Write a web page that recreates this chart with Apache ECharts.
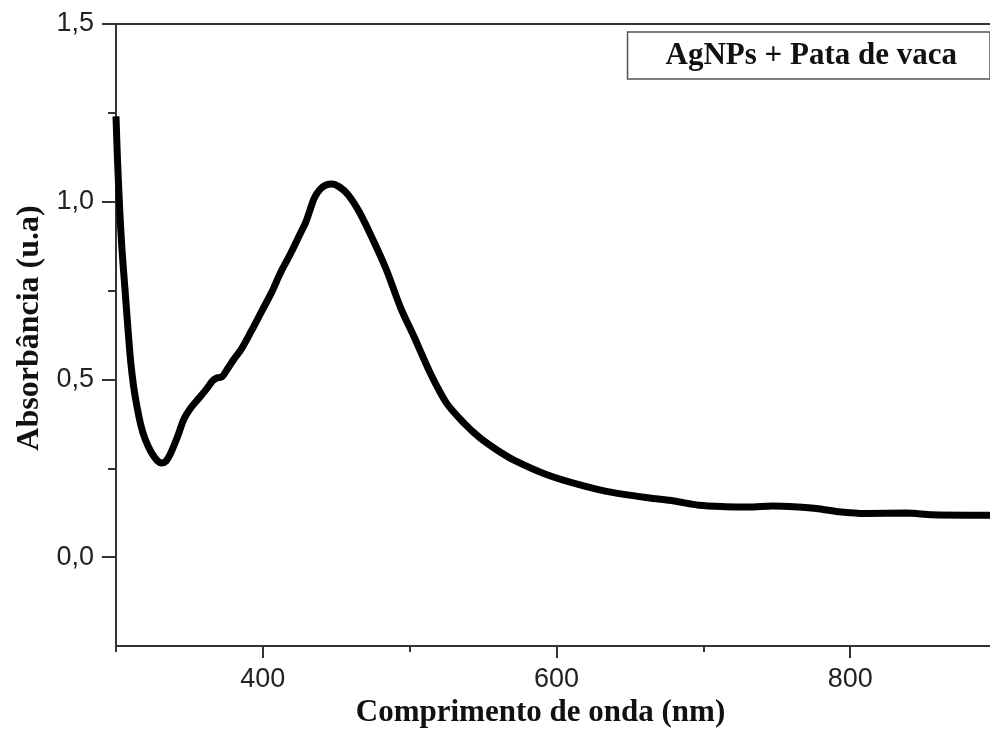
<!DOCTYPE html>
<html>
<head>
<meta charset="utf-8">
<script src="https://cdn.jsdelivr.net/npm/echarts@6/dist/echarts.min.js"></script>
<style>html,body{margin:0;padding:0;background:#fff}#c{width:990px;height:731px}</style>
</head>
<body>
<div id="c"></div>
<script>
const seriesName = 'AgNPs + Pata de vaca';
const wavelength = [300,301,302.5,304,306,308,310,312,314,317,320,324,328,331,334,337,342,346,351,356,362,366,369,372,376,380,385,392,399,406,412,419,426,429,432,435,439,443,447,452,458,466,475,484,494,503,514,525,537,548,560,571,594,616,634,662,680,697,715,731,747,765,777,792,811,838,856,880,900];
const absorbance = [1.24,1.12,0.98,0.87,0.76,0.65,0.55,0.48,0.43,0.37,0.33,0.295,0.272,0.265,0.27,0.29,0.34,0.386,0.42,0.445,0.475,0.497,0.505,0.507,0.53,0.555,0.583,0.635,0.69,0.745,0.80,0.855,0.915,0.94,0.975,1.01,1.035,1.047,1.05,1.042,1.02,0.969,0.893,0.81,0.70,0.62,0.518,0.434,0.377,0.335,0.30,0.273,0.231,0.203,0.185,0.167,0.158,0.146,0.142,0.141,0.144,0.141,0.137,0.128,0.123,0.124,0.119,0.118,0.118];
const xMajorTicks = [400,600,800];
const xMinorTicks = [300,500,700,900];
const yMajorTicks = [0,0.5,1,1.5];
const yMinorTicks = [0.25,0.75,1.25];

const data = wavelength.map((w,i)=>[w,absorbance[i]]);
const axisColor = '#333';
const labelStyle = {color:'#222', fontFamily:'Liberation Sans', fontSize:27};
const nameStyle = {color:'#111', fontFamily:'Liberation Serif', fontWeight:'bold', fontSize:31};

const chart = echarts.init(document.getElementById('c'));
chart.setOption({
  animation:false,
  backgroundColor:'#fff',
  grid:{left:116, right:-7, top:24, bottom:85, outerBoundsMode:'none', containLabel:false},
  legend:{
    data:[{name:seriesName, icon:'none'}],
    right:0, top:32, itemWidth:0, itemGap:0,
    borderColor:'#555', borderWidth:1.5,
    padding:[8,33,8,33],
    textStyle:{color:'#111', fontFamily:'Liberation Serif', fontWeight:'bold', fontSize:31}
  },
  xAxis:[
    {type:'value', min:300, max:900, position:'bottom',
     name:'Comprimento de onda (nm)', nameLocation:'middle', nameGap:48,
     nameTextStyle:Object.assign({padding:[0,32,0,0]}, nameStyle),
     axisLine:{show:true, onZero:false, lineStyle:{color:axisColor, width:2}},
     axisTick:{show:true, customValues:xMajorTicks, length:12, lineStyle:{color:axisColor, width:2}},
     axisLabel:Object.assign({customValues:xMajorTicks, margin:20}, labelStyle),
     splitLine:{show:false}},
    {type:'value', min:300, max:900, position:'bottom',
     axisLine:{show:false, onZero:false},
     axisTick:{show:true, customValues:xMinorTicks, length:6, lineStyle:{color:axisColor, width:2}},
     axisLabel:{show:false}, splitLine:{show:false}},
    {type:'value', min:300, max:900, position:'top',
     axisLine:{show:true, onZero:false, lineStyle:{color:axisColor, width:2}},
     axisTick:{show:false}, axisLabel:{show:false}, splitLine:{show:false}}
  ],
  yAxis:[
    {type:'value', min:-0.25, max:1.5, position:'left',
     name:'Absorbância (u.a)', nameLocation:'middle', nameGap:70,
     nameTextStyle:Object.assign({}, nameStyle, {fontSize:32, padding:[0,0,0,14]}),
     axisLine:{show:true, onZero:false, lineStyle:{color:axisColor, width:2}},
     axisTick:{show:true, customValues:yMajorTicks, length:14, lineStyle:{color:axisColor, width:2}},
     axisLabel:Object.assign({customValues:yMajorTicks, margin:22,
       formatter:v=>v.toFixed(1).replace('.',',')}, labelStyle),
     splitLine:{show:false}},
    {type:'value', min:-0.25, max:1.5, position:'left',
     axisLine:{show:false, onZero:false},
     axisTick:{show:true, customValues:yMinorTicks, length:8, lineStyle:{color:axisColor, width:2}},
     axisLabel:{show:false}, splitLine:{show:false}}
  ],
  series:[{
    name:seriesName, type:'line', xAxisIndex:0, yAxisIndex:0,
    data:data, showSymbol:false, smooth:0.3,
    lineStyle:{color:'#000', width:7}, itemStyle:{color:'#000'}
  }]
});
</script>
</body>
</html>
